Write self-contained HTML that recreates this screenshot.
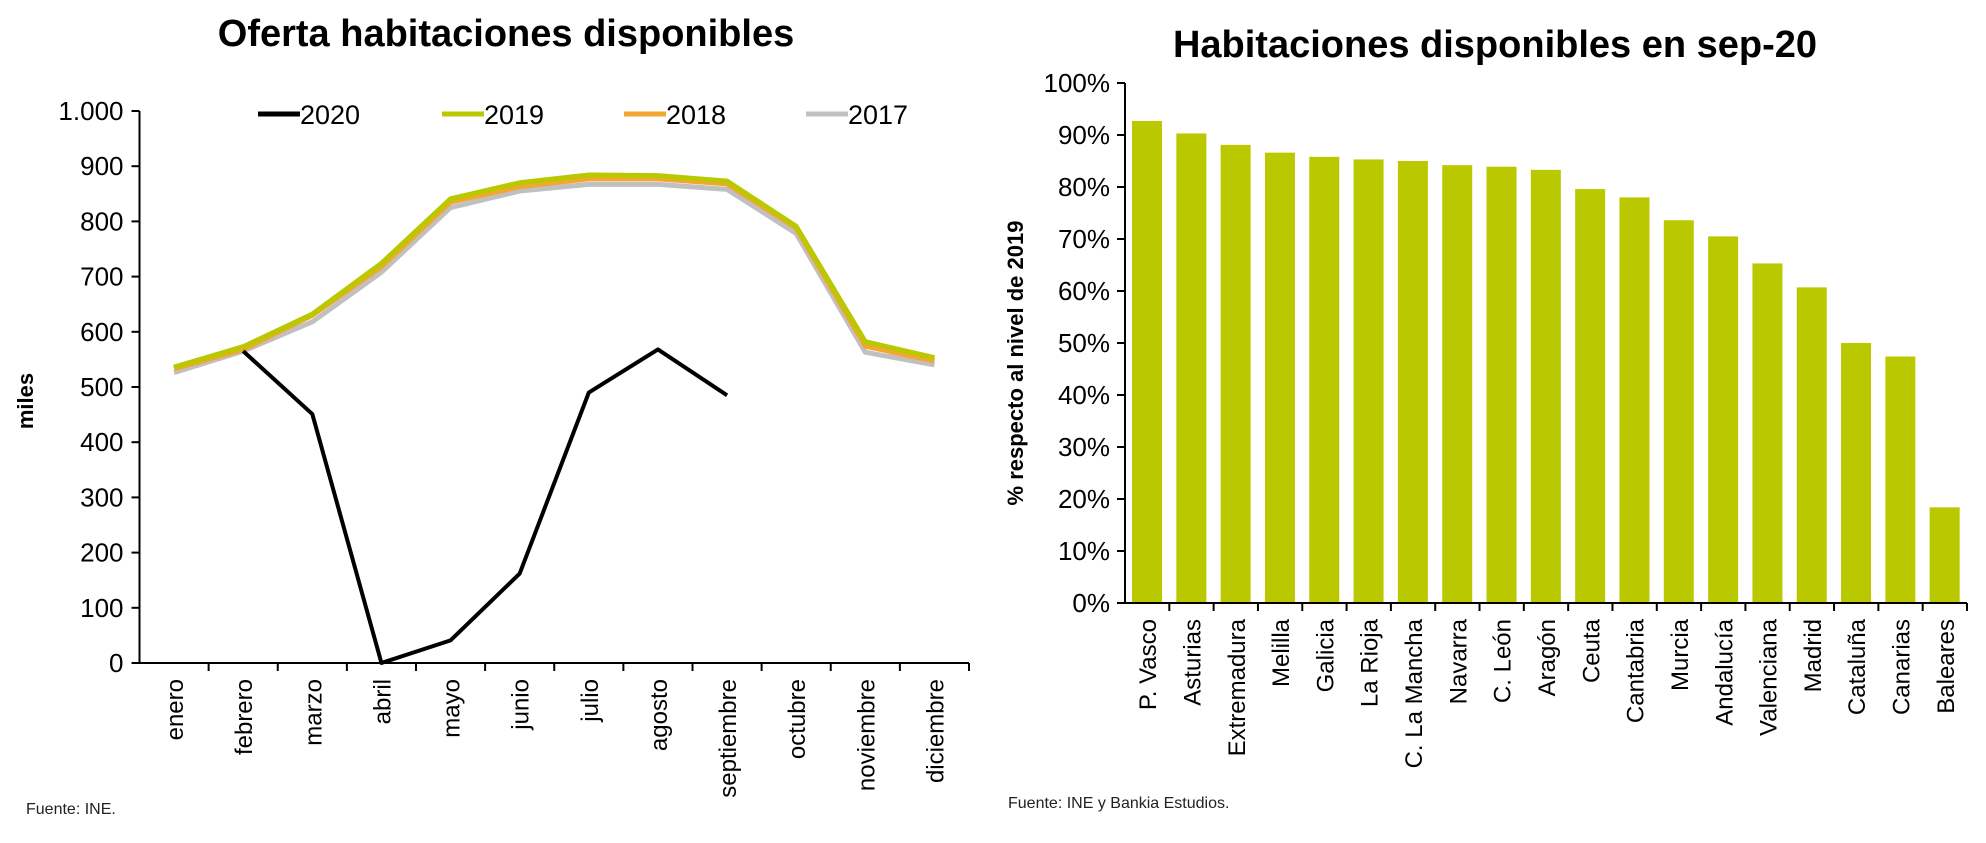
<!DOCTYPE html>
<html><head><meta charset="utf-8"><style>
html,body{margin:0;padding:0;background:#fff;width:1986px;height:843px;overflow:hidden}
svg{font-family:"Liberation Sans","DejaVu Sans",sans-serif}
</style></head><body>
<svg id="c" width="1986" height="843" viewBox="0 0 1986 843" xmlns="http://www.w3.org/2000/svg">
<text x="506" y="46" text-anchor="middle" font-size="38" font-weight="bold">Oferta habitaciones disponibles</text>
<text x="1495" y="57" text-anchor="middle" font-size="38" font-weight="bold">Habitaciones disponibles en sep-20</text>
<text transform="translate(33,401) rotate(-90)" text-anchor="middle" font-size="22" font-weight="bold">miles</text>
<text transform="translate(1023,363) rotate(-90)" text-anchor="middle" font-size="22" font-weight="bold">% respecto al nivel de 2019</text>
<text x="26" y="814" font-size="16" fill="#222">Fuente: INE.</text>
<text x="1008" y="808" font-size="16" fill="#222">Fuente: INE y Bankia Estudios.</text>
<g id="L"></g><g id="R"></g>
</svg>
<script>
const months=["enero","febrero","marzo","abril","mayo","junio","julio","agosto","septiembre","octubre","noviembre","diciembre"];
const leftTicks=[0,100,200,300,400,500,600,700,800,900,1000];
const leftTickLabels=["0","100","200","300","400","500","600","700","800","900","1.000"];
const s2020=[null,565,451,0,41,162,490,568,485,null,null,null];
const s2019=[536,573,632,724,841,870,884,883,873,791,582,553];
const s2018=[533,568,630,718,835,863,877,877,868,788,574,547];
const s2017=[526,565,618,708,825,855,867,867,858,778,563,540];
const seriesNames=["2020","2019","2018","2017"];
const regions=["P. Vasco","Asturias","Extremadura","Melilla","Galicia","La Rioja","C. La Mancha","Navarra","C. León","Aragón","Ceuta","Cantabria","Murcia","Andalucía","Valenciana","Madrid","Cataluña","Canarias","Baleares"];
const regionValues=[92.7,90.3,88.1,86.6,85.8,85.3,85.0,84.2,83.9,83.3,79.6,78.0,73.6,70.5,65.3,60.7,50.0,47.4,18.4];
const rightTicks=[0,10,20,30,40,50,60,70,80,90,100];

const NS="http://www.w3.org/2000/svg";
function mk(p,t,a){const e=document.createElementNS(NS,t);for(const k in a)e.setAttribute(k,a[k]);p.appendChild(e);return e;}
const L=document.getElementById('L');
const lx0=139.5,lx1=969,ly0=663,ly1=111;
const ybL=v=>ly0-(v/1000)*(ly0-ly1);
const bw=(lx1-lx0)/months.length;
const xcL=i=>lx0+bw*(i+0.5);
let ax=mk(L,'line',{x1:lx0,y1:ly1,x2:lx0,y2:ly0,stroke:'#000','stroke-width':2});


ax=mk(L,'line',{x1:lx0-8,y1:ly0,x2:lx1,y2:ly0,stroke:'#000','stroke-width':2});


leftTicks.forEach((v,i)=>{const y=ybL(v);
 mk(L,'line',{x1:lx0-8,y1:y,x2:lx0,y2:y,stroke:'#000','stroke-width':2});
 const t=mk(L,'text',{x:lx0-16,y:y+9,'text-anchor':'end','font-size':26});t.textContent=leftTickLabels[i];
 
 });
months.forEach((m,i)=>{const x=lx0+bw*(i+1);
 mk(L,'line',{x1:x,y1:ly0,x2:x,y2:ly0+8,stroke:'#000','stroke-width':2});
 const t=mk(L,'text',{transform:`translate(${xcL(i)+9},${ly0+16}) rotate(-90)`,'text-anchor':'end','font-size':24});t.textContent=m;
 
 });
const cols=["#000","#bac800","#f0a830","#c0c0c0"];
const data=[s2020,s2019,s2018,s2017];
[3,2,1,0].forEach(k=>{let d="";data[k].forEach((v,i)=>{if(v==null)return;d+=(d?"L":"M")+xcL(i)+","+ybL(v);});
 const p=mk(L,'path',{d:d,fill:'none',stroke:cols[k],'stroke-width':k==0?4:5,'stroke-linejoin':'round'});
 
 });
const legX=[258,442,624,806];
seriesNames.forEach((n,k)=>{const g=mk(L,'g',{});
 
 
 mk(g,'line',{x1:legX[k],y1:114,x2:legX[k]+42,y2:114,stroke:cols[k],'stroke-width':5});
 const t=mk(g,'text',{x:legX[k]+42,y:124,'font-size':27});t.textContent=n;});
const R=document.getElementById('R');
const rx0=1125,rx1=1967,ry0=603,ry1=83;
const ybR=v=>ry0-(v/100)*(ry0-ry1);
const cw=(rx1-rx0)/regions.length;
ax=mk(R,'line',{x1:rx0,y1:ry1,x2:rx0,y2:ry0,stroke:'#000','stroke-width':2});


rightTicks.forEach(v=>{const y=ybR(v);
 mk(R,'line',{x1:rx0-8,y1:y,x2:rx0,y2:y,stroke:'#000','stroke-width':2});
 const t=mk(R,'text',{x:rx0-15,y:y+9,'text-anchor':'end','font-size':26});t.textContent=v+"%";
 
 });
regions.forEach((r,i)=>{const v=regionValues[i];const x=rx0+cw*i+7;
 const b=mk(R,'rect',{x:x,y:ybR(v),width:30,height:ry0-ybR(v),fill:'#bac800'});
 
 
 const tx=rx0+cw*(i+1);
 mk(R,'line',{x1:tx,y1:ry0,x2:tx,y2:ry0+8,stroke:'#000','stroke-width':2});
 const t=mk(R,'text',{transform:`translate(${rx0+cw*(i+0.5)+9},${ry0+16}) rotate(-90)`,'text-anchor':'end','font-size':24});t.textContent=r;
 
 });
ax=mk(R,'line',{x1:rx0-8,y1:ry0,x2:rx1,y2:ry0,stroke:'#000','stroke-width':2});


</script>
</body></html>
